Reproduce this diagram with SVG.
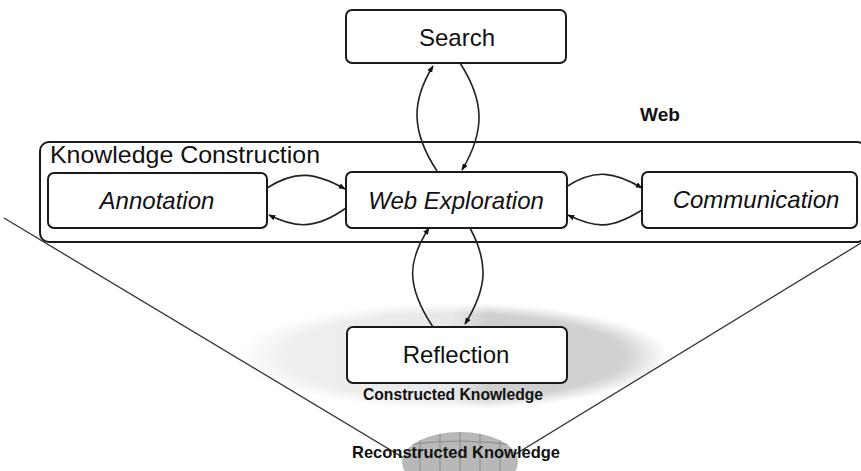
<svg xmlns="http://www.w3.org/2000/svg" width="861" height="471" viewBox="0 0 861 471">
<defs>
<linearGradient id="blobGrad" x1="0" y1="0" x2="1" y2="0">
<stop offset="0" stop-color="#f2f2f2"/>
<stop offset="0.5" stop-color="#e8e8e8"/>
<stop offset="0.58" stop-color="#cfcfcf"/>
<stop offset="1" stop-color="#d2d2d2"/>
</linearGradient>
<radialGradient id="blobFade" cx="0.5" cy="0.5" r="0.5">
<stop offset="0.8" stop-color="#fff"/>
<stop offset="1" stop-color="#000"/>
</radialGradient>
<mask id="blobMask" maskUnits="userSpaceOnUse" x="0" y="0" width="861" height="471">
<ellipse cx="453" cy="356" rx="216" ry="53" fill="url(#blobFade)"/>
</mask>
<clipPath id="lensClip"><ellipse cx="460" cy="462" rx="58" ry="30"/></clipPath>
<marker id="arr" viewBox="0 0 10 10" refX="9" refY="5" markerWidth="7" markerHeight="7" orient="auto" markerUnits="userSpaceOnUse">
<path d="M0,1 L10,5 L0,9 Z" fill="#111"/>
</marker>
<style>
.box{fill:#fff;stroke:#1a1a1a;stroke-width:2}
.lbl{font-family:"Liberation Sans",Arial,sans-serif;font-size:24px;fill:#111;text-anchor:middle}
.it{font-style:italic}
.bold{font-family:"Liberation Sans",Arial,sans-serif;font-weight:bold;fill:#111}
.con{fill:none;stroke:#222;stroke-width:1.6;marker-end:url(#arr)}
.tri{stroke:#333;stroke-width:1.3;fill:none}
</style>
</defs>
<rect width="861" height="471" fill="#fff"/>

<g id="background">
<ellipse cx="453" cy="356" rx="216" ry="53" fill="url(#blobGrad)" mask="url(#blobMask)"/>
<line class="tri" x1="4" y1="218" x2="457" y2="490"/>
<line class="tri" x1="861" y1="243" x2="457" y2="490"/>
<ellipse cx="460" cy="462" rx="58" ry="30" fill="#b8b8b8"/>
<g clip-path="url(#lensClip)" stroke="#8a8a8a" stroke-width="1">
<line x1="420" y1="430" x2="420" y2="471"/>
<line x1="440" y1="430" x2="440" y2="471"/>
<line x1="460" y1="430" x2="460" y2="471"/>
<line x1="480" y1="430" x2="480" y2="471"/>
<line x1="500" y1="430" x2="500" y2="471"/>
<path d="M400,446 Q460,436 520,446" fill="none"/>
</g>
</g>

<g id="knowledge-construction">
<rect class="box" x="40" y="142" width="826" height="100" rx="9"/>
<text class="lbl" x="50" y="163" style="text-anchor:start" textLength="270" lengthAdjust="spacingAndGlyphs">Knowledge Construction</text>
</g>

<g id="search">
<rect class="box" x="346" y="10" width="220" height="53" rx="6"/>
<text class="lbl" x="457" y="46">Search</text>
</g>

<g id="annotation">
<rect class="box" x="48" y="173" width="219" height="55" rx="6"/>
<text class="lbl it" x="157" y="209">Annotation</text>
</g>

<g id="web-exploration">
<rect class="box" x="346" y="172" width="221" height="56" rx="6"/>
<text class="lbl it" x="456" y="209">Web Exploration</text>
</g>

<g id="communication">
<rect class="box" x="642" y="172" width="215" height="56" rx="6"/>
<text class="lbl it" x="756" y="208">Communication</text>
</g>

<g id="reflection">
<rect class="box" x="347" y="327" width="220" height="56" rx="6"/>
<text class="lbl" x="456" y="363">Reflection</text>
</g>

<g id="web-label">
<text class="bold" x="660" y="121" font-size="19" text-anchor="middle">Web</text>
</g>

<g id="constructed-knowledge">
<text class="bold" x="453" y="400" font-size="17" text-anchor="middle" textLength="180" lengthAdjust="spacingAndGlyphs">Constructed Knowledge</text>
</g>

<g id="reconstructed-knowledge">
<text class="bold" x="456" y="458" font-size="17" text-anchor="middle" textLength="208" lengthAdjust="spacingAndGlyphs">Reconstructed Knowledge</text>
</g>

<g id="connectors">
<path class="con" d="M437,171 C410,130 412,100 433,66"/>
<path class="con" d="M460,63 C484,100 486,130 462,170"/>
<path class="con" d="M267,188 C295,170 315,172 345,189"/>
<path class="con" d="M346,208 C315,230 295,228 269,215"/>
<path class="con" d="M566,187 C595,168 615,172 642,188"/>
<path class="con" d="M642,210 C610,230 595,228 568,215"/>
<path class="con" d="M433,327 C405,285 408,260 429,228"/>
<path class="con" d="M470,228 C490,265 486,290 465,324"/>
</g>
</svg>
